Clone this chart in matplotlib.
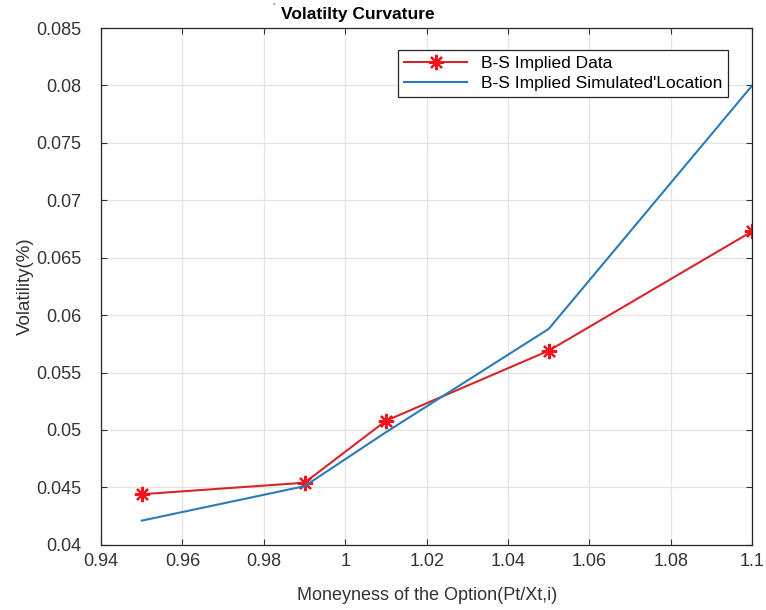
import matplotlib
matplotlib.use("Agg")
import matplotlib.pyplot as plt

moneyness = [0.95, 0.99, 1.01, 1.05, 1.10]
implied_data = [0.0444, 0.0454, 0.0508, 0.0569, 0.0673]
simulated = [0.0421, 0.0451, 0.0498, 0.0588, 0.0800]

x_ticks = [0.94, 0.96, 0.98, 1.00, 1.02, 1.04, 1.06, 1.08, 1.10]
x_labels = ["0.94", "0.96", "0.98", "1", "1.02", "1.04", "1.06", "1.08", "1.1"]
y_ticks = [0.04, 0.045, 0.05, 0.055, 0.06, 0.065, 0.07, 0.075, 0.08, 0.085]
y_labels = ["0.04", "0.045", "0.05", "0.055", "0.06", "0.065", "0.07", "0.075", "0.08", "0.085"]

plt.rcParams["font.family"] = ["Liberation Sans", "DejaVu Sans"]
text_color = "#333333"

fig = plt.figure(figsize=(7.66, 6.10), dpi=100)
ax = fig.add_axes([0.132, 0.107, 0.85, 0.847])

ax.plot(moneyness, implied_data, color="#d7262b", linewidth=1.5, marker=(8, 2, 0),
        markersize=11, markeredgewidth=1.6, markeredgecolor="#ee1420",
        label="B-S Implied Data")
ax.plot(moneyness, simulated, color="#2b7bb9", linewidth=1.5,
        label="B-S Implied Simulated'Location")

ax.set_xlim(0.94, 1.10)
ax.set_ylim(0.04, 0.085)
ax.set_xticks(x_ticks)
ax.set_xticklabels(x_labels)
ax.set_yticks(y_ticks)
ax.set_yticklabels(y_labels)
ax.tick_params(direction="in", top=True, right=True, labelsize=13,
               colors=text_color, length=4)
ax.tick_params(axis="x", pad=6)
ax.tick_params(axis="y", pad=14)
ax.grid(True, color="#e3e3e3", linewidth=0.9)
ax.set_axisbelow(True)
for s in ax.spines.values():
    s.set_color("#262626")
    s.set_linewidth(0.9)

ax.set_xlabel("Moneyness of the Option(Pt/Xt,i)", fontsize=13, color=text_color, labelpad=12)
ax.set_ylabel("Volatility(%)", fontsize=13.5, color=text_color, labelpad=2)
ax.text(0.395, 1.012, "Volatilty Curvature", transform=ax.transAxes, ha="center",
        va="bottom", fontsize=12.5, fontweight="bold")
ax.text(0.264, 1.03, "'", transform=ax.transAxes, ha="center", va="bottom",
        fontsize=8, color="#555555")

leg = ax.legend(loc="upper right", bbox_to_anchor=(0.963, 0.958), fontsize=12.5,
                fancybox=False, framealpha=1, edgecolor="#262626",
                handlelength=3.6, borderpad=0.35, labelspacing=0.3, borderaxespad=0)
leg.get_frame().set_linewidth(0.9)

fig.savefig("out.png", dpi=100)
